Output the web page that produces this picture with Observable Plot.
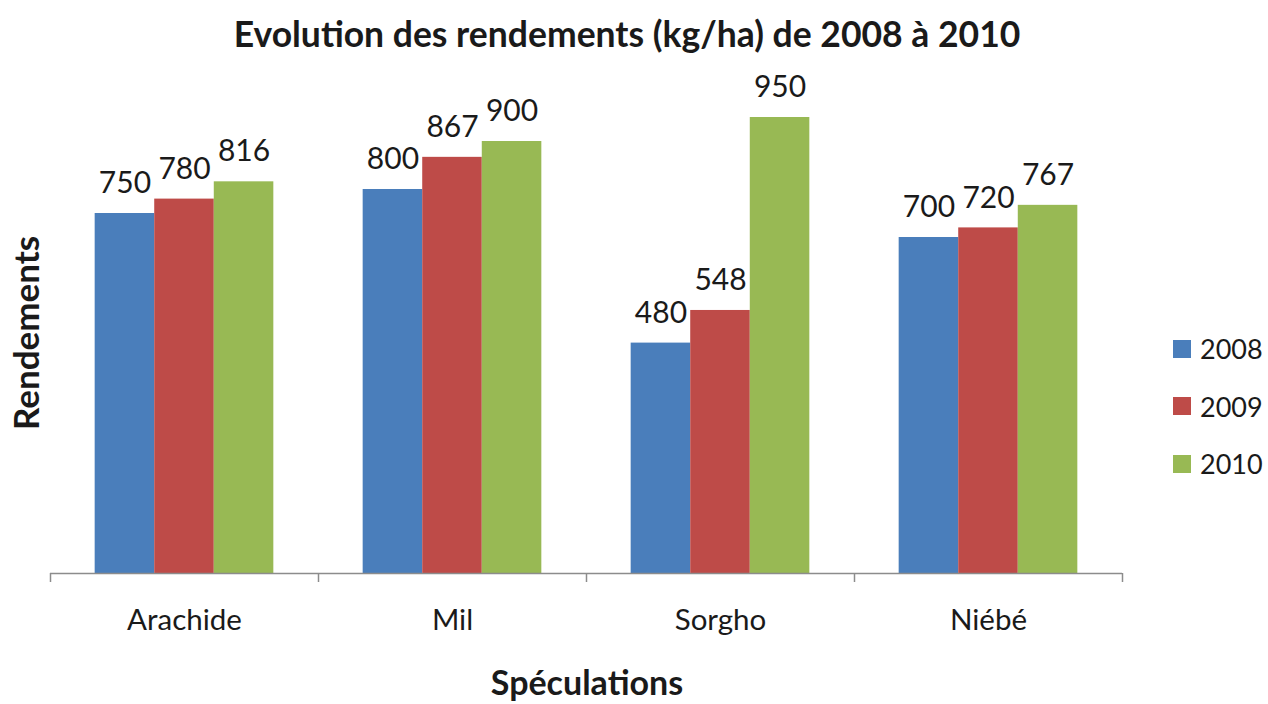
<!DOCTYPE html>
<html>
<head>
<meta charset="utf-8">
<script src="https://cdn.jsdelivr.net/npm/d3@7"></script>
<script src="https://cdn.jsdelivr.net/npm/@observablehq/plot@0.6"></script>
<style>
  html, body { margin: 0; padding: 0; background: #fff; }
  #wrap { position: relative; width: 1268px; height: 704px; font-family: Lato, "Open Sans", sans-serif; color: #1a1a1a; }
  #chart { position: absolute; left: 0; top: 0; }
  #title { position: absolute; left: 0; width: 1254px; top: 13px; line-height: 42px; text-align: center; font-weight: bold; font-size: 35.5px; }
  #ylabel { position: absolute; left: 25px; top: 333px; transform: translate(-50%, -50%) rotate(-90deg); font-weight: bold; font-size: 35px; line-height: 42px; white-space: nowrap; }
  #xlabel { position: absolute; left: 0; width: 1174px; top: 662px; line-height: 40px; text-align: center; font-weight: bold; font-size: 34px; }
  #legend { position: absolute; left: 1173px; top: 320px; font-size: 27px; }
  .item { display: flex; align-items: center; height: 57.5px; }
  .sw { width: 18px; height: 18px; margin-right: 9px; }
</style>
</head>
<body>
<div id="wrap">
  <div id="chart"></div>
  <div id="title">Evolution des rendements (kg/ha) de 2008 à 2010</div>
  <div id="ylabel">Rendements</div>
  <div id="xlabel">Spéculations</div>
  <div id="legend"></div>
</div>
<script>
const crops = ["Arachide", "Mil", "Sorgho", "Niébé"];
const years = ["2008", "2009", "2010"];
const v2008 = [750, 800, 480, 700];
const v2009 = [780, 867, 548, 720];
const v2010 = [816, 900, 950, 767];
const colors = ["#4a7ebb", "#be4b48", "#98b954"];

const series = [v2008, v2009, v2010];
const sidePad = 0.75;
const slots = years.length + 2 * sidePad;
const table = [];
crops.forEach((c, i) => {
  years.forEach((yr, j) => {
    const x1 = i + (sidePad + j) / slots;
    const x2 = i + (sidePad + j + 1) / slots;
    table.push({crop: c, year: yr, value: series[j][i], x1, x2, xm: (x1 + x2) / 2});
  });
});

const chart = Plot.plot({
  width: 1268,
  height: 704,
  marginLeft: 50,
  marginRight: 146,
  marginTop: 93,
  marginBottom: 131,
  style: {fontFamily: "Lato, 'Open Sans', sans-serif", background: "transparent"},
  x: {domain: [0, crops.length], axis: null},
  y: {domain: [0, 1000], axis: null},
  color: {domain: years, range: colors},
  marks: [
    Plot.rectY(table, {x1: "x1", x2: "x2", y: "value", fill: "year"}),
    Plot.ruleY([0], {stroke: "#8c8c8c", strokeWidth: 1.5}),
    Plot.axisX({ticks: d3.range(crops.length + 1), tickSize: 9, tickFormat: () => "", stroke: "#8c8c8c", strokeWidth: 1.5}),
    Plot.axisX({ticks: crops.map((c, i) => i + 0.5), tickSize: 0, tickPadding: 36, fontSize: 29.5, fill: "#1a1a1a", tickFormat: d => crops[Math.floor(d)]}),
    Plot.text(table, {x: "xm", y: "value", text: d => String(d.value), dy: -30, fontSize: 30, fill: "#1a1a1a"})
  ]
});
document.getElementById("chart").appendChild(chart);

const legend = document.getElementById("legend");
years.forEach((yr, j) => {
  const item = document.createElement("div");
  item.className = "item";
  item.innerHTML = `<div class="sw" style="background:${colors[j]}"></div><span>${yr}</span>`;
  legend.appendChild(item);
});
</script>
</body>
</html>
